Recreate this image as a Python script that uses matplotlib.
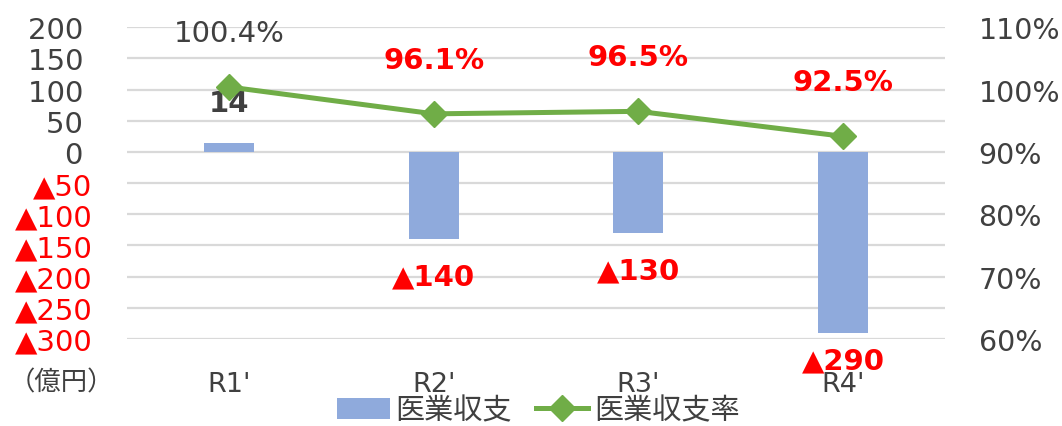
import matplotlib
matplotlib.use('Agg')
import matplotlib.pyplot as plt
from matplotlib.ticker import FuncFormatter

plt.rcParams['font.family'] = ['DejaVu Sans', 'Noto Sans CJK JP']

# data
years = ["R1'", "R2'", "R3'", "R4'"]
balance = [14, -140, -130, -290]          # 医業収支 (億円)
ratio = [100.4, 96.1, 96.5, 92.5]         # 医業収支率 (%)
left_ticks = [200, 150, 100, 50, 0, -50, -100, -150, -200, -250, -300]
right_ticks = [60, 70, 80, 90, 100, 110]

gray = '#404040'
red = '#ff0000'
bar_color = '#8faadc'
line_color = '#70ad47'

fig = plt.figure(figsize=(10.62, 4.27), dpi=100)
ax = fig.add_axes([0.1196, 0.204, 0.7704, 0.730])
ax2 = ax.twinx()

x = list(range(len(years)))
bars = ax.bar(x, balance, width=0.245, color=bar_color, zorder=2, label='医業収支')
ax.set_xlim(-0.5, len(years) - 0.5)
ax.set_ylim(-300, 200)
ax.set_yticks(left_ticks)
# non-negative labels sit a bit further left than the ▲ ones
ax.yaxis.set_major_formatter(FuncFormatter(
    lambda v, p: f'▲{int(-v)}' if v < 0 else f'{int(v)} '))
ax.grid(axis='y', color='#d9d9d9', linewidth=1.6, zorder=0)
ax.set_axisbelow(True)
ax.set_xticks(x)
ax.set_xticklabels(years)
ax.tick_params(axis='x', length=0, pad=23, labelsize=19.5, labelcolor=gray)
ax.tick_params(axis='y', length=0, pad=25, labelsize=21, labelcolor=gray)
for lbl, v in zip(ax.get_yticklabels(), left_ticks):
    if v < 0:
        lbl.set_color(red)

for sp in ax.spines.values():
    sp.set_visible(False)
for sp in ax2.spines.values():
    sp.set_visible(False)

# bar labels
for xi, v in zip(x, balance):
    if v >= 0:
        ax.annotate(f'{v}', (xi, v), xytext=(0, 29), textcoords='offset points',
                    ha='center', va='center', fontsize=21, fontweight='bold', color=gray)
    else:
        # keep the label near the plot area for the deepest bar
        y_lab = max(v - 60, -335)
        ax.annotate(f'▲{-v}', (xi, y_lab), ha='center', va='center',
                    fontsize=21, fontweight='bold', color=red, annotation_clip=False)

line, = ax2.plot(x, ratio, color=line_color, linewidth=3.6, marker='D',
                 markersize=13.5, zorder=3, label='医業収支率')
ax2.set_ylim(60, 110)
ax2.set_yticks(right_ticks)
ax2.yaxis.set_major_formatter(FuncFormatter(lambda v, p: f'{int(v)}%'))
ax2.tick_params(axis='y', length=0, pad=24, labelsize=20.5, labelcolor=gray)

for xi, r in zip(x, ratio):
    if r >= 100:
        ax2.annotate(f'{r:.1f}%', (xi, r), xytext=(0, 39), textcoords='offset points',
                     ha='center', va='center', fontsize=21, color=gray)
    else:
        ax2.annotate(f'{r:.1f}%', (xi, r), xytext=(0, 39), textcoords='offset points',
                     ha='center', va='center', fontsize=21, fontweight='bold', color=red)

fig.text(0.058, 0.103, '（億円）', ha='center', va='center', fontsize=19,
         color=gray, family=['Noto Sans CJK JP', 'DejaVu Sans'])

fig.legend(handles=[bars, line], loc='lower center', bbox_to_anchor=(0.507, -0.058),
           ncol=2, frameon=False, fontsize=21, labelcolor=gray,
           handlelength=1.8, columnspacing=0.8, handletextpad=0.2)

fig.savefig('out.png', dpi=100)
